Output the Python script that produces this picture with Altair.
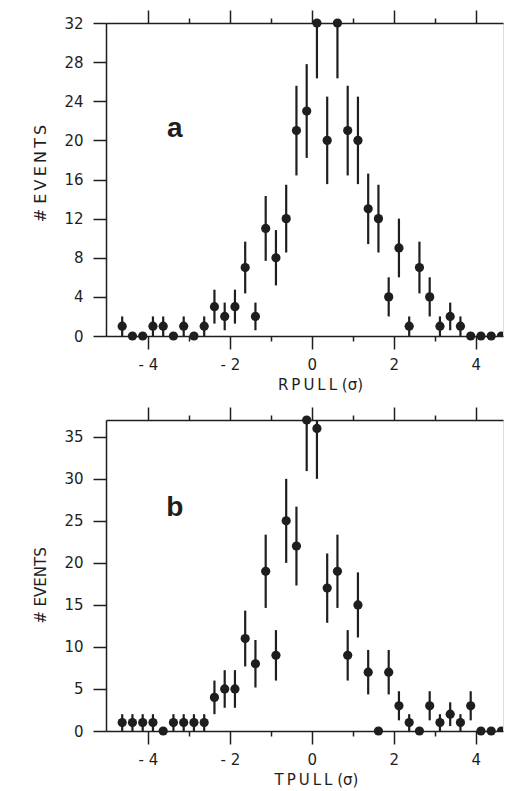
import altair as alt
import pandas as pd

# ---- data ----
rpull_x = [-4.625, -4.375, -4.125, -3.875, -3.625, -3.375, -3.125, -2.875, -2.625, -2.375,
           -2.125, -1.875, -1.625, -1.375, -1.125, -0.875, -0.625, -0.375, -0.125, 0.125,
           0.375, 0.625, 0.875, 1.125, 1.375, 1.625, 1.875, 2.125, 2.375, 2.625,
           2.875, 3.125, 3.375, 3.625, 3.875, 4.125, 4.375, 4.625, 4.875]
rpull_n = [1, 0, 0, 1, 1, 0, 1, 0, 1, 3,
           2, 3, 7, 2, 11, 8, 12, 21, 23, 32,
           20, 32, 21, 20, 13, 12, 4, 9, 1, 7,
           4, 1, 2, 1, 0, 0, 0, 0, 0]

tpull_x = [-4.625, -4.375, -4.125, -3.875, -3.625, -3.375, -3.125, -2.875, -2.625, -2.375,
           -2.125, -1.875, -1.625, -1.375, -1.125, -0.875, -0.625, -0.375, -0.125, 0.125,
           0.375, 0.625, 0.875, 1.125, 1.375, 1.625, 1.875, 2.125, 2.375, 2.625,
           2.875, 3.125, 3.375, 3.625, 3.875, 4.125, 4.375, 4.625]
tpull_n = [1, 1, 1, 1, 0, 1, 1, 1, 1, 4,
           5, 5, 11, 8, 19, 9, 25, 22, 37, 36,
           17, 19, 9, 15, 7, 0, 7, 3, 1, 0,
           3, 1, 2, 1, 3, 0, 0, 0]

x_ticks = [-4, -3, -2, -1, 0, 1, 2, 3, 4]
ya_ticks = [0, 4, 8, 12, 16, 20, 24, 28, 32]
yb_ticks = [0, 5, 10, 15, 20, 25, 30, 35]

FONT = "DejaVu Sans"
INK = "#1e1e1e"
TS = "\u2009"
ya_title = "# " + TS.join("EVENTS")
yb_title = "# EVENTS"
xa_title = TS.join("RPULL") + " (σ)"
xb_title = TS.join("TPULL") + " (σ)"

X_DOMAIN = [-5.02, 4.663]
PLOT_W = 397


def panel(xs, ns, ymax, yticks, xtitle, xtitle_x, ytitle, ytitle_y, ytitle_size,
          letter, letter_x, letter_y, height):
    df = pd.DataFrame({"x": xs, "n": ns})
    base = alt.Chart(df)
    xscale = alt.Scale(domain=X_DOMAIN, nice=False, zero=False)
    yscale = alt.Scale(domain=[0, ymax], nice=False, zero=True)
    tick_cond = {"condition": {"test": "abs(datum.value) % 2 === 0", "value": 13}, "value": 5}
    bottom_axis = alt.Axis(
        orient="bottom", values=x_ticks, grid=False, tickSize=tick_cond,
        labelExpr="abs(datum.value) % 2 === 0 ? (datum.value < 0 ? '- ' + abs(datum.value) : '' + datum.value) : ''",
        labelFont=FONT, labelFontSize=15, labelColor=INK, labelPadding=8,
        title=xtitle, titleFont=FONT, titleFontSize=15, titleFontWeight="normal",
        titleColor=INK, titlePadding=5, titleX=xtitle_x,
        domainColor=INK, domainWidth=1.5, tickColor=INK, tickWidth=1.5,
    )
    top_axis = alt.Axis(
        orient="top", values=x_ticks, grid=False, tickSize=tick_cond, labels=False,
        title=None, domainColor=INK, domainWidth=1.5, tickColor=INK, tickWidth=1.5,
    )
    y_axis = alt.Axis(
        values=yticks, grid=False, tickSize=13, labelPadding=10,
        labelFont=FONT, labelFontSize=15, labelColor=INK,
        title=ytitle, titleFont=FONT, titleFontSize=ytitle_size, titleFontWeight="normal",
        titleColor=INK, titlePadding=15, titleY=ytitle_y,
        domainColor=INK, domainWidth=1.5, tickColor=INK, tickWidth=1.5,
    )

    err = base.transform_filter("datum.n > 0").transform_calculate(
        lo="datum.n - sqrt(datum.n)", hi="datum.n + sqrt(datum.n)"
    ).mark_rule(clip=True, strokeWidth=2.2, color=INK).encode(
        x=alt.X("x:Q", scale=xscale, axis=bottom_axis),
        y=alt.Y("lo:Q", scale=yscale, axis=y_axis),
        y2="hi:Q",
    )
    pts = base.transform_filter("datum.x < 4.5").mark_circle(
        size=85, opacity=1, color=INK
    ).encode(
        x=alt.X("x:Q", scale=xscale, axis=top_axis),
        y=alt.Y("n:Q", scale=yscale, axis=y_axis),
    )
    edge_pts = base.transform_filter("datum.x >= 4.5").mark_circle(
        size=85, opacity=1, color=INK, clip=True
    ).encode(
        x=alt.X("x:Q", scale=xscale, axis=None),
        y=alt.Y("n:Q", scale=yscale, axis=y_axis),
    )
    lab = alt.Chart(pd.DataFrame({"x": [letter_x], "y": [letter_y], "t": [letter]})).mark_text(
        font="Liberation Sans", fontSize=28, fontWeight="bold", color=INK,
        align="center", baseline="alphabetic"
    ).encode(
        x=alt.X("x:Q", scale=xscale, axis=None),
        y=alt.Y("y:Q", scale=yscale, axis=y_axis),
        text="t:N",
    )
    return alt.layer(err, pts, edge_pts, lab).resolve_axis(x="independent").properties(
        width=PLOT_W, height=height
    )


top = panel(rpull_x, rpull_n, 32, ya_ticks, xa_title, 214, ya_title, 150, 16,
            "a", -3.34, 20.3, 313)
bot = panel(tpull_x, tpull_n, 37, yb_ticks, xb_title, 210, yb_title, 165, 15,
            "b", -3.34, 25.6, 311)

chart = alt.vconcat(top, bot, spacing=12).properties(
    padding={"left": 24, "top": 0, "right": 0, "bottom": 0}
).configure_view(stroke=None).configure(background="white")

chart.save("out.html", embed_options={"renderer": "svg", "actions": False})
